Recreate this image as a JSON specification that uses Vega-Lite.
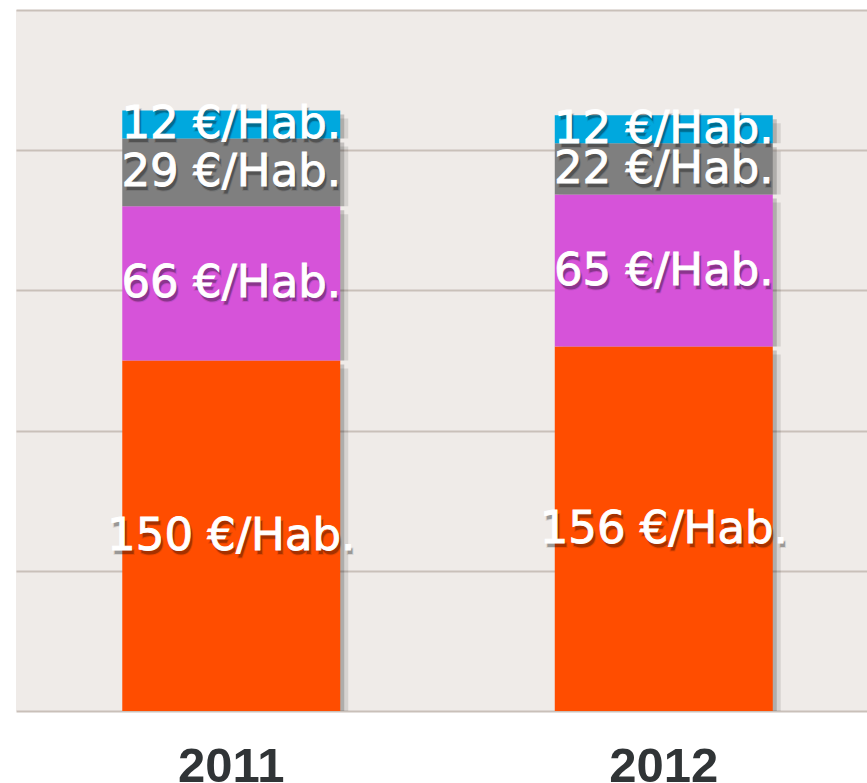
{
  "$schema": "https://vega.github.io/schema/vega-lite/v6.json",
  "width": 851,
  "height": 701,
  "autosize": {"type": "none"},
  "padding": {"left": 16, "top": 10, "right": 0, "bottom": 72},
  "background": "#ffffff",
  "config": {"view": {"fill": "#EFEBE8", "stroke": null}},
  "data": {
    "values": [
      {"year": "2011", "category": "A", "order": 1, "value": 150, "label": "150 €/Hab."},
      {"year": "2011", "category": "B", "order": 2, "value": 66, "label": "66 €/Hab."},
      {"year": "2011", "category": "C", "order": 3, "value": 29, "label": "29 €/Hab."},
      {"year": "2011", "category": "D", "order": 4, "value": 12, "label": "12 €/Hab."},
      {"year": "2012", "category": "A", "order": 1, "value": 156, "label": "156 €/Hab."},
      {"year": "2012", "category": "B", "order": 2, "value": 65, "label": "65 €/Hab."},
      {"year": "2012", "category": "C", "order": 3, "value": 22, "label": "22 €/Hab."},
      {"year": "2012", "category": "D", "order": 4, "value": 12, "label": "12 €/Hab."}
    ]
  },
  "transform": [
    {"stack": "value", "groupby": ["year"], "sort": [{"field": "order"}], "as": ["y0", "y1"]},
    {"calculate": "(datum.y0 + datum.y1) / 2", "as": "ymid"}
  ],
  "encoding": {
    "x": {
      "field": "year",
      "type": "nominal",
      "scale": {"paddingInner": 0.496, "paddingOuter": 0.2318, "align": 0.53},
      "axis": {
        "title": null,
        "labelAngle": 0,
        "ticks": false,
        "domain": false,
        "grid": false,
        "labelFont": "Liberation Sans",
        "labelFontWeight": "bold",
        "labelFontSize": 49,
        "labelColor": "#303436",
        "labelPadding": 31
      }
    }
  },
  "layer": [
    {
      "mark": {"type": "bar", "color": "#000000", "opacity": 0.1, "xOffset": 8, "yOffset": 8},
      "encoding": {
        "y": {"field": "y1", "type": "quantitative", "scale": {"domain": [0, 300], "nice": false},
          "axis": {"title": null, "labels": false, "ticks": false, "domain": false, "values": [0, 60, 120, 180, 240, 300], "gridColor": "#C9C0B9", "gridWidth": 2, "gridOpacity": 1}},
        "y2": {"field": "y0"}
      }
    },
    {
      "mark": {"type": "bar", "color": "#000000", "opacity": 0.18, "xOffset": 4, "yOffset": 4},
      "encoding": {
        "y": {"field": "y1", "type": "quantitative"},
        "y2": {"field": "y0"}
      }
    },
    {
      "mark": {"type": "bar"},
      "encoding": {
        "y": {"field": "y1", "type": "quantitative"},
        "y2": {"field": "y0"},
        "color": {
          "field": "category",
          "type": "nominal",
          "scale": {"domain": ["A", "B", "C", "D"], "range": ["#FF4D00", "#D653D9", "#7F7F7F", "#00A8DE"]},
          "legend": null
        }
      }
    },
    {
      "mark": {"type": "text", "color": "#000000", "opacity": 0.35, "dx": 2, "dy": 4, "font": "DejaVu Sans", "fontSize": 45, "stroke": "#000000", "strokeWidth": 2, "strokeOpacity": 0.25, "baseline": "middle", "align": "center"},
      "encoding": {
        "y": {"field": "ymid", "type": "quantitative"},
        "text": {"field": "label"}
      }
    },
    {
      "mark": {"type": "text", "color": "#ffffff", "font": "DejaVu Sans", "fontSize": 45, "stroke": "#ffffff", "strokeWidth": 0.9, "baseline": "middle", "align": "center"},
      "encoding": {
        "y": {"field": "ymid", "type": "quantitative"},
        "text": {"field": "label"}
      }
    }
  ]
}
